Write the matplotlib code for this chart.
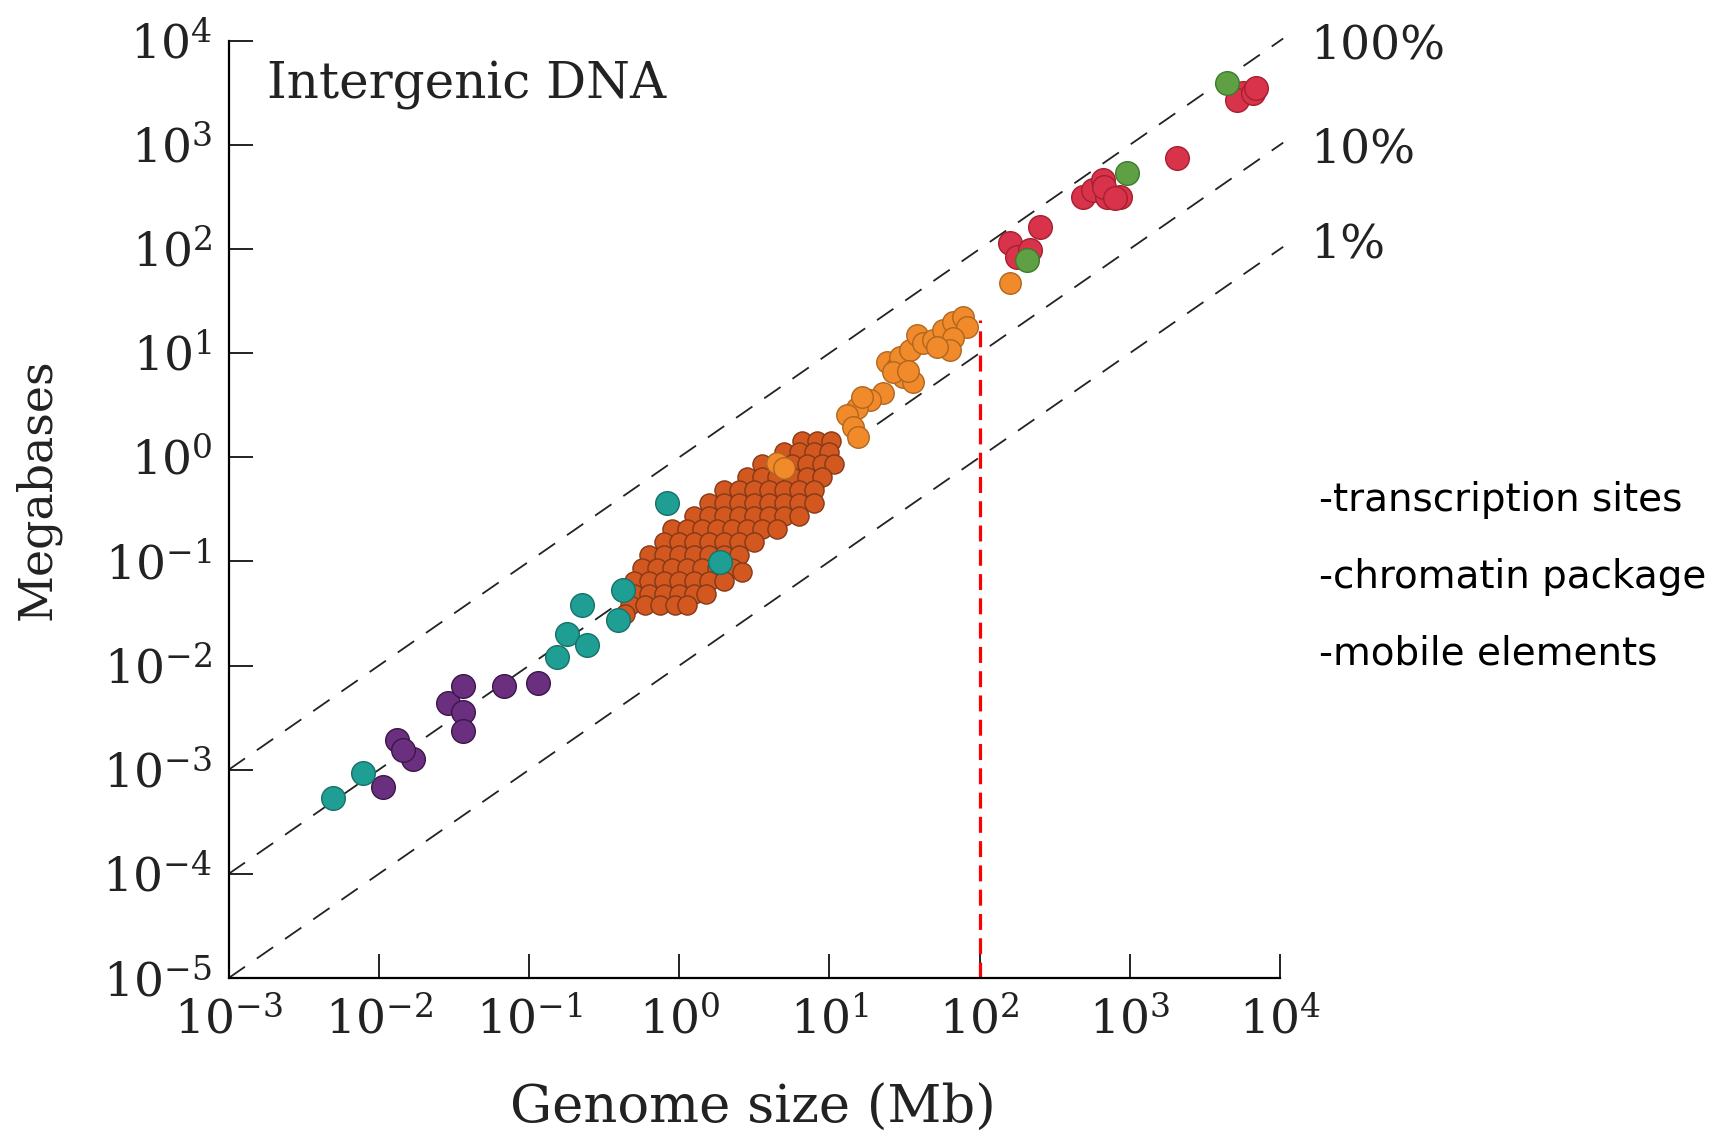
import numpy as np
import matplotlib
matplotlib.use('Agg')
import matplotlib.pyplot as plt

plt.rcParams['font.family'] = 'DejaVu Serif'
plt.rcParams['mathtext.fontset'] = 'dejavuserif'

# reference lines: fraction of genome that is intergenic
line_fracs = [1.0, 0.1, 0.01]
line_labels = ['100%', '10%', '1%']
label_y = [8.9e3, 8.9e2, 1.1e2]
line_x = [1e-3, 1.05e4]
cutoff_x = 1e2
cutoff_top = 21

# points, log10(genome size), log10(megabases)
teal_lx = [-2.305, -2.105, -0.814, -0.747, -0.614, -0.647, -0.407, -0.374, -0.081, 0.27]
teal_ly = [-3.27, -3.03, -1.92, -1.70, -1.80, -1.42, -1.56, -1.27, -0.44, -1.01]

purple_lx = [-1.97, -1.878, -1.77, -1.84, -1.54, -1.44, -1.44, -1.44, -1.17, -0.94]
purple_ly = [-3.17, -2.71, -2.90, -2.81, -2.36, -2.20, -2.45, -2.63, -2.20, -2.17]

# dense brown cloud, row by row
brown_lx = [0.82, 0.92, 1.01,
            0.70, 0.80, 0.90, 1.00,
            0.55, 0.65, 0.75, 0.85, 0.95, 1.03,
            0.45, 0.55, 0.65, 0.75, 0.85, 0.95,
            0.30, 0.40, 0.50, 0.60, 0.70, 0.80, 0.90,
            0.20, 0.30, 0.40, 0.50, 0.60, 0.70, 0.80, 0.90,
            0.10, 0.20, 0.30, 0.40, 0.50, 0.60, 0.70, 0.80,
            -0.05, 0.05, 0.15, 0.25, 0.35, 0.45, 0.55, 0.65,
            -0.10, 0.00, 0.10, 0.20, 0.30, 0.40, 0.50,
            -0.20, -0.10, 0.00, 0.10, 0.20, 0.30, 0.40,
            -0.25, -0.15, -0.05, 0.05, 0.15, 0.25, 0.35, 0.42,
            -0.30, -0.20, -0.10, 0.00, 0.10, 0.20, 0.30,
            -0.30, -0.20, -0.10, 0.00, 0.10, 0.18,
            -0.33, -0.23, -0.13, -0.03, 0.05,
            -0.36]
brown_ly = [0.16, 0.16, 0.16,
            0.05, 0.05, 0.05, 0.05,
            -0.06, -0.06, -0.06, -0.06, -0.06, -0.06,
            -0.19, -0.19, -0.19, -0.19, -0.19, -0.19,
            -0.31, -0.31, -0.31, -0.31, -0.31, -0.31, -0.31,
            -0.44, -0.44, -0.44, -0.44, -0.44, -0.44, -0.44, -0.44,
            -0.56, -0.56, -0.56, -0.56, -0.56, -0.56, -0.56, -0.56,
            -0.69, -0.69, -0.69, -0.69, -0.69, -0.69, -0.69, -0.69,
            -0.81, -0.81, -0.81, -0.81, -0.81, -0.81, -0.81,
            -0.94, -0.94, -0.94, -0.94, -0.94, -0.94, -0.94,
            -1.06, -1.06, -1.06, -1.06, -1.06, -1.06, -1.06, -1.10,
            -1.19, -1.19, -1.19, -1.19, -1.19, -1.19, -1.19,
            -1.31, -1.31, -1.31, -1.31, -1.31, -1.31,
            -1.42, -1.42, -1.42, -1.42, -1.42,
            -1.50]

orange_lx = [0.65, 0.70,
             1.357, 1.270, 1.183, 1.117, 1.157, 1.19, 1.22,
             1.383, 1.450, 1.490, 1.557, 1.470, 1.537, 1.583, 1.623,
             1.690, 1.756, 1.823, 1.889, 1.916, 1.823, 1.803, 1.716, 1.42, 1.52,
             2.202]
orange_ly = [-0.05, -0.10,
             0.619, 0.552, 0.476, 0.409, 0.293, 0.197, 0.58,
             0.917, 0.869, 0.773, 0.725, 0.965, 1.032, 1.175, 1.099,
             1.128, 1.224, 1.301, 1.349, 1.253, 1.147, 1.032, 1.061, 0.82, 0.83,
             1.675]

red_lx = [3.753, 3.713, 3.820, 3.84, 3.315,
          2.689, 2.755, 2.822, 2.848, 2.935, 2.83, 2.90,
          2.402, 2.202, 2.249, 2.335]
red_ly = [3.498, 3.431, 3.498, 3.55, 2.874,
          2.50, 2.567, 2.663, 2.50, 2.50, 2.60, 2.49,
          2.212, 2.059, 1.925, 1.992]

green_lx = [3.647, 2.982, 2.315]
green_ly = [3.594, 2.73, 1.896]

notes = ['-transcription sites', '-chromatin package', '-mobile elements']

fig = plt.figure(figsize=(17.23, 11.37), dpi=100)
ax = fig.add_axes([0.1327, 0.1398, 0.6102, 0.8244])
ax.set_xscale('log')
ax.set_yscale('log')
ax.set_xlim(1e-3, 1e4)
ax.set_ylim(1e-5, 1e4)

for frac, lab, ly in zip(line_fracs, line_labels, label_y):
    ys = [frac * v for v in line_x]
    ax.plot(line_x, ys, color='#222222', lw=1.3, dashes=(11, 8), zorder=1, clip_on=False)
    ax.text(1.6e4, ly, lab, fontsize=34, va='center', ha='left', color='#222222')

ax.plot([cutoff_x, cutoff_x], [1e-5, cutoff_top], color='red', lw=2.3, dashes=(5, 2.6), zorder=2)

def dots(lx, ly, face, edge, s=290, z=3):
    ax.scatter(10 ** np.array(lx), 10 ** np.array(ly), s=s, c=face, edgecolors=edge,
               linewidths=1.0, zorder=z, clip_on=False)

dots(brown_lx, brown_ly, '#d2581f', '#83391a', s=190, z=3)
dots(orange_lx, orange_ly, '#f08a2a', '#b0661f', s=240, z=4)
dots(purple_lx, purple_ly, '#6b2f80', '#3b1747', z=5)
dots(teal_lx, teal_ly, '#1f9e93', '#16716a', z=5)
dots(red_lx, red_ly, '#d8334a', '#a5202f', z=5)
dots(green_lx, green_ly, '#5fa044', '#3e7a2d', z=6)

ax.spines['top'].set_visible(False)
ax.spines['right'].set_visible(False)
for sp in ['left', 'bottom']:
    ax.spines[sp].set_linewidth(1.6)
ax.minorticks_off()
ax.set_xticks([10.0 ** k for k in range(-3, 5)])
ax.set_yticks([10.0 ** k for k in range(-5, 5)])
ax.tick_params(axis='both', which='major', direction='in', length=17, width=1.4,
               labelsize=34, colors='#222222')
ax.tick_params(axis='y', pad=12)
ax.tick_params(axis='x', pad=14)

ax.text(0.0365, 0.952, 'Intergenic DNA', transform=ax.transAxes, fontsize=36,
        va='center', ha='left', color='#222222')

fig.text(0.437, 0.025, 'Genome size (Mb)', fontsize=38, ha='center', va='center', color='#222222')
fig.text(0.022, 0.57, 'Megabases', fontsize=33, rotation=90, ha='center', va='center', color='#222222')

for i, t in enumerate(notes):
    fig.text(0.7655, 0.560 - i * 0.0675, t, fontsize=28, family='DejaVu Sans',
             ha='left', va='center', color='black')

fig.savefig('out.png', dpi=100)
